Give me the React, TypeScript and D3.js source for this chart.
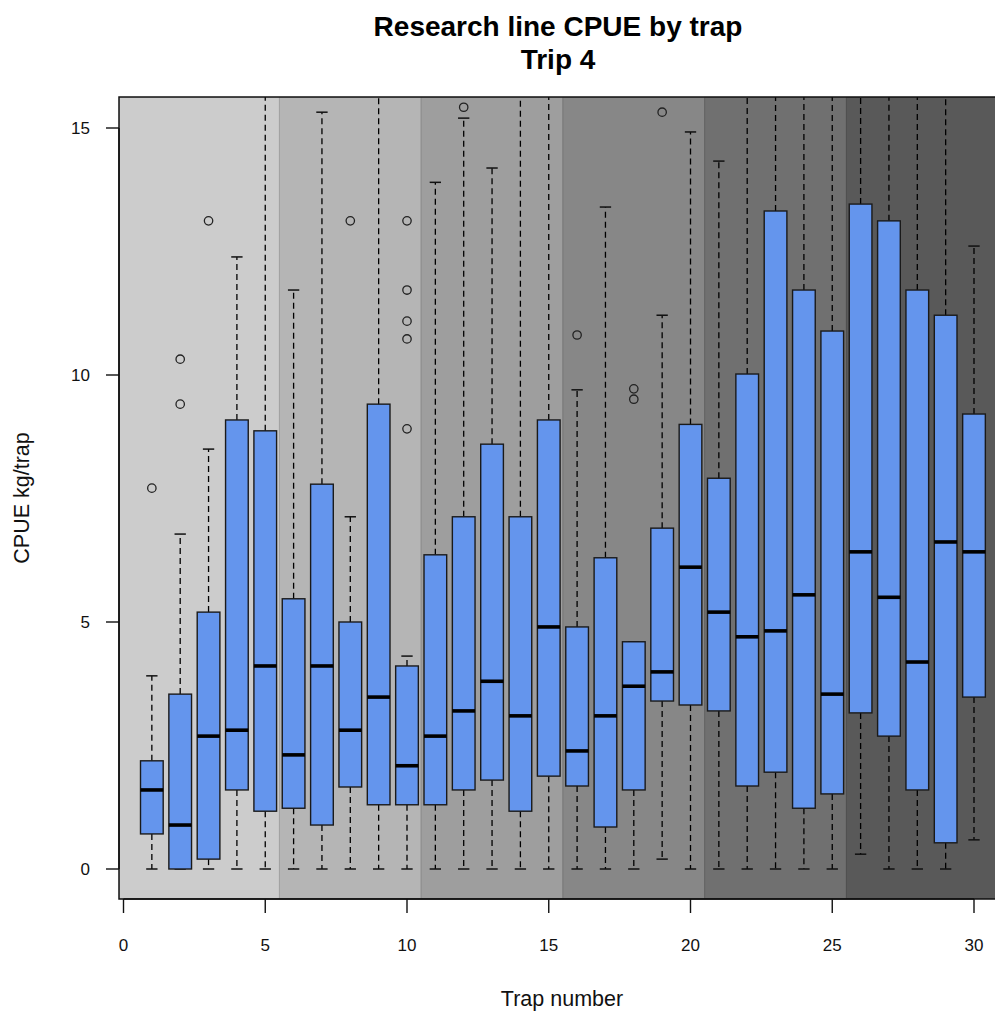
import React, { useRef, useEffect } from "react";
import * as d3 from "d3";

// values (kg/trap)
const traps = [1, 2, 3, 4, 5, 6, 7, 8, 9, 10, 11, 12, 13, 14, 15, 16, 17, 18, 19, 20, 21, 22, 23, 24, 25, 26, 27, 28, 29, 30];
const whiskerLow = [0, 0, 0, 0, 0, 0, 0, 0, 0, 0, 0, 0, 0, 0, 0, 0, 0, 0, 0.2, 0, 0, 0, 0, 0, 0, 0.3, 0, 0, 0, 0.59];
const q1 = [0.71, 0, 0.2, 1.6, 1.17, 1.23, 0.89, 1.66, 1.3, 1.3, 1.3, 1.6, 1.8, 1.17, 1.88, 1.68, 0.85, 1.6, 3.4, 3.32, 3.2, 1.68, 1.96, 1.23, 1.52, 3.16, 2.69, 1.6, 0.53, 3.48];
const medians = [1.6, 0.89, 2.69, 2.81, 4.11, 2.31, 4.11, 2.81, 3.48, 2.09, 2.69, 3.2, 3.8, 3.1, 4.9, 2.39, 3.1, 3.7, 3.99, 6.11, 5.2, 4.7, 4.82, 5.55, 3.54, 6.42, 5.5, 4.19, 6.62, 6.42];
const q3 = [2.19, 3.54, 5.2, 9.09, 8.87, 5.47, 7.79, 5.0, 9.41, 4.11, 6.36, 7.13, 8.6, 7.13, 9.09, 4.9, 6.3, 4.6, 6.9, 9.0, 7.91, 10.02, 13.32, 11.72, 10.89, 13.46, 13.12, 11.72, 11.21, 9.21];
// whiskers running off the top of the plot are given an estimated value above 15.6
const whiskerHigh = [3.91, 6.78, 8.5, 12.39, 17.5, 11.72, 15.32, 7.13, 17.5, 4.31, 13.9, 15.2, 14.19, 17.5, 17.5, 9.7, 13.4, 4.6, 11.21, 14.92, 14.33, 17.5, 17.5, 17.5, 17.5, 17.5, 17.5, 17.5, 17.5, 12.61];
const outlierTrap = [1, 2, 2, 3, 8, 10, 10, 10, 10, 10, 12, 16, 18, 18, 19];
const outlierValue = [7.71, 9.41, 10.32, 13.12, 13.12, 8.91, 10.73, 11.09, 11.72, 13.12, 15.42, 10.81, 9.51, 9.72, 15.32];
const bandStart = [0.5, 5.5, 10.5, 15.5, 20.5, 25.5];
const bandEnd = [5.5, 10.5, 15.5, 20.5, 25.5, 30.5];
const bandColors = ["#cccccc", "#b5b5b5", "#9e9e9e", "#878787", "#707070", "#595959"];
const xTicks = [0, 5, 10, 15, 20, 25, 30];
const yTicks = [0, 5, 10, 15];

const FONT = "'Liberation Sans', Arial, sans-serif";

function App() {
  const canvas = useRef(null);

  function drawChart() {
    const W = 995;
    const H = 1012;
    const left = 119;
    const right = 1000;
    const top = 97;
    const bottom = 899;

    const x = d3.scaleLinear().domain([0, 30]).range([123.5, 974]);
    const y = d3.scaleLinear().domain([0, 15]).range([869, 128]);
    const xMin = x.invert(left);
    const xMax = x.invert(right);

    const svg = d3
      .select(canvas.current)
      .attr("width", W)
      .attr("height", H)
      .style("position", "absolute")
      .style("left", 0)
      .style("top", 0)
      .style("background", "#fff");
    svg.selectAll("*").remove();

    svg
      .append("clipPath")
      .attr("id", "plotclip")
      .append("rect")
      .attr("x", left)
      .attr("y", top)
      .attr("width", right - left)
      .attr("height", bottom - top);

    const plot = svg.append("g").attr("clip-path", "url(#plotclip)");

    // shaded bands every five traps
    plot
      .selectAll("rect.band")
      .data(bandColors)
      .enter()
      .append("rect")
      .attr("class", "band")
      .attr("x", (d, i) => x(i === 0 ? xMin : bandStart[i]))
      .attr("y", top)
      .attr("width", (d, i) => x(i === bandColors.length - 1 ? xMax : bandEnd[i]) - x(i === 0 ? xMin : bandStart[i]))
      .attr("height", bottom - top)
      .attr("fill", (d) => d)
      .attr("stroke", (d) => d3.color(d).darker(0.35).formatHex())
      .attr("stroke-width", 1);

    const boxW = x(0.8) - x(0);
    const capW = boxW / 2;

    const boxes = plot
      .selectAll("g.box")
      .data(traps)
      .enter()
      .append("g")
      .attr("class", "box");

    // whiskers
    boxes
      .append("line")
      .attr("x1", (d) => x(d))
      .attr("x2", (d) => x(d))
      .attr("y1", (d, i) => y(q3[i]))
      .attr("y2", (d, i) => y(whiskerHigh[i]))
      .attr("stroke", "#000")
      .attr("stroke-width", 1.3)
      .attr("stroke-dasharray", "6,4");
    boxes
      .append("line")
      .attr("x1", (d) => x(d))
      .attr("x2", (d) => x(d))
      .attr("y1", (d, i) => y(q1[i]))
      .attr("y2", (d, i) => y(whiskerLow[i]))
      .attr("stroke", "#000")
      .attr("stroke-width", 1.3)
      .attr("stroke-dasharray", "6,4");
    // staples
    boxes
      .append("line")
      .attr("x1", (d) => x(d) - capW / 2)
      .attr("x2", (d) => x(d) + capW / 2)
      .attr("y1", (d, i) => y(whiskerHigh[i]))
      .attr("y2", (d, i) => y(whiskerHigh[i]))
      .attr("stroke", "#111")
      .attr("stroke-width", 1.5);
    boxes
      .append("line")
      .attr("x1", (d) => x(d) - capW / 2)
      .attr("x2", (d) => x(d) + capW / 2)
      .attr("y1", (d, i) => y(whiskerLow[i]))
      .attr("y2", (d, i) => y(whiskerLow[i]))
      .attr("stroke", "#111")
      .attr("stroke-width", 1.5);
    // boxes
    boxes
      .append("rect")
      .attr("x", (d) => x(d) - boxW / 2)
      .attr("y", (d, i) => y(q3[i]))
      .attr("width", boxW)
      .attr("height", (d, i) => y(q1[i]) - y(q3[i]))
      .attr("fill", "#6495ED")
      .attr("stroke", "#1a1a1a")
      .attr("stroke-width", 1.4);
    // medians
    boxes
      .append("line")
      .attr("x1", (d) => x(d) - boxW / 2)
      .attr("x2", (d) => x(d) + boxW / 2)
      .attr("y1", (d, i) => y(medians[i]))
      .attr("y2", (d, i) => y(medians[i]))
      .attr("stroke", "#000")
      .attr("stroke-width", 3.6);

    // outliers
    plot
      .selectAll("circle.out")
      .data(outlierValue)
      .enter()
      .append("circle")
      .attr("class", "out")
      .attr("cx", (d, i) => x(outlierTrap[i]))
      .attr("cy", (d) => y(d))
      .attr("r", 4.2)
      .attr("fill", "none")
      .attr("stroke", "#222")
      .attr("stroke-width", 1.3);

    // frame
    svg
      .append("rect")
      .attr("x", left)
      .attr("y", top)
      .attr("width", right - left)
      .attr("height", bottom - top)
      .attr("fill", "none")
      .attr("stroke", "#111")
      .attr("stroke-width", 1.5);

    // x axis
    const xAxis = svg.append("g");
    xAxis
      .append("line")
      .attr("x1", x(0))
      .attr("x2", x(30))
      .attr("y1", bottom)
      .attr("y2", bottom)
      .attr("stroke", "#111")
      .attr("stroke-width", 1.5);
    xAxis
      .selectAll("line.tick")
      .data(xTicks)
      .enter()
      .append("line")
      .attr("class", "tick")
      .attr("x1", (d) => x(d))
      .attr("x2", (d) => x(d))
      .attr("y1", bottom)
      .attr("y2", bottom + 14)
      .attr("stroke", "#111")
      .attr("stroke-width", 1.4);
    xAxis
      .selectAll("text")
      .data(xTicks)
      .enter()
      .append("text")
      .attr("x", (d) => x(d))
      .attr("y", 951)
      .attr("text-anchor", "middle")
      .style("font-family", FONT)
      .style("font-size", "17px")
      .attr("fill", "#111")
      .text((d) => d);

    // y axis
    const yAxis = svg.append("g");
    yAxis
      .append("line")
      .attr("x1", left)
      .attr("x2", left)
      .attr("y1", y(0))
      .attr("y2", y(15))
      .attr("stroke", "#111")
      .attr("stroke-width", 1.5);
    yAxis
      .selectAll("line.tick")
      .data(yTicks)
      .enter()
      .append("line")
      .attr("class", "tick")
      .attr("x1", left - 13)
      .attr("x2", left)
      .attr("y1", (d) => y(d))
      .attr("y2", (d) => y(d))
      .attr("stroke", "#111")
      .attr("stroke-width", 1.4);
    yAxis
      .selectAll("text")
      .data(yTicks)
      .enter()
      .append("text")
      .attr("x", 90)
      .attr("y", (d) => y(d))
      .attr("dy", "0.35em")
      .attr("text-anchor", "end")
      .style("font-family", FONT)
      .style("font-size", "17px")
      .attr("fill", "#111")
      .text((d) => d);

    // titles
    svg
      .append("text")
      .attr("x", 558)
      .attr("y", 36)
      .attr("text-anchor", "middle")
      .style("font-family", FONT)
      .style("font-size", "28px")
      .style("font-weight", "bold")
      .text("Research line CPUE by trap");
    svg
      .append("text")
      .attr("x", 558)
      .attr("y", 69)
      .attr("text-anchor", "middle")
      .style("font-family", FONT)
      .style("font-size", "28px")
      .style("font-weight", "bold")
      .text("Trip 4");
    svg
      .append("text")
      .attr("x", 562)
      .attr("y", 1006)
      .attr("text-anchor", "middle")
      .style("font-family", FONT)
      .style("font-size", "21.5px")
      .attr("fill", "#111")
      .text("Trap number");
    svg
      .append("text")
      .attr("transform", `translate(29, ${(top + bottom) / 2}) rotate(-90)`)
      .attr("text-anchor", "middle")
      .style("font-family", FONT)
      .style("font-size", "21.5px")
      .attr("fill", "#111")
      .text("CPUE kg/trap");
  }

  useEffect(() => {
    drawChart();
  }, []);

  return (
    <>
      <svg ref={canvas}></svg>
    </>
  );
}

export default App;
